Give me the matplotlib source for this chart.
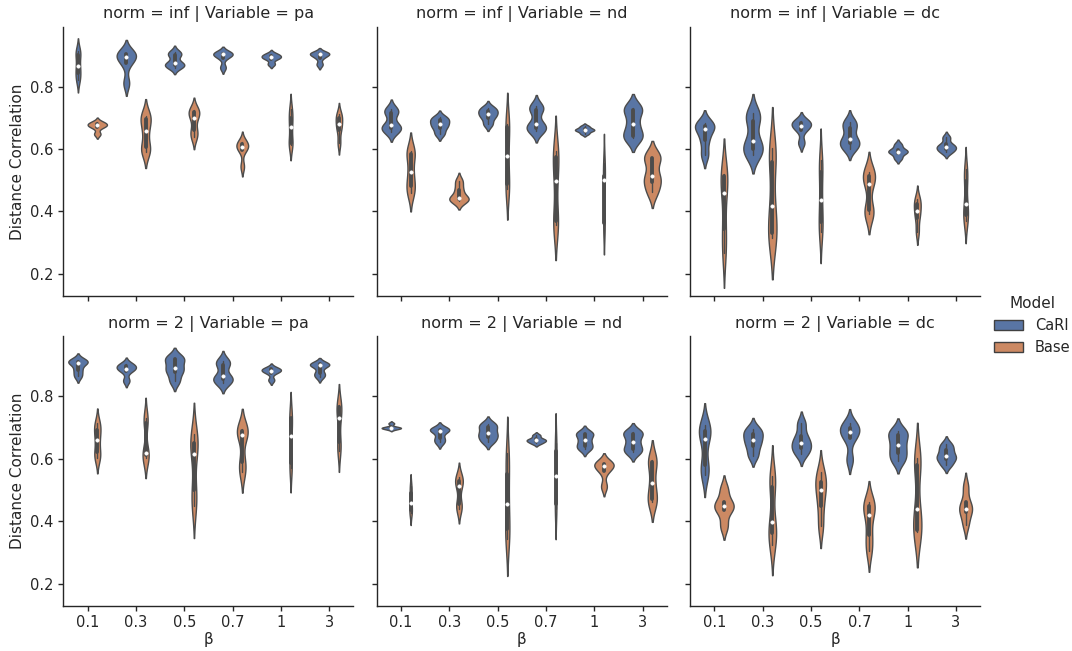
import numpy as np
import pandas as pd
import seaborn as sns
from matplotlib import pyplot as plt
from matplotlib.patches import Patch

betas = ['0.1', '0.3', '0.5', '0.7', '1', '3']
models = ['CaRI', 'Base']
norms = ['inf', '2']
variables = ['pa', 'nd', 'dc']

# samples (min, q1, median, q3, max), one row per beta
inf_pa_cari = [[0.821, 0.843, 0.867, 0.901, 0.915], [0.811, 0.875, 0.896, 0.903, 0.909],
               [0.861, 0.870, 0.875, 0.900, 0.910], [0.861, 0.893, 0.904, 0.906, 0.908],
               [0.872, 0.889, 0.894, 0.899, 0.905], [0.871, 0.893, 0.904, 0.906, 0.908]]
inf_pa_base = [[0.648, 0.670, 0.676, 0.680, 0.686], [0.592, 0.605, 0.658, 0.697, 0.707],
               [0.638, 0.660, 0.701, 0.718, 0.726], [0.544, 0.598, 0.606, 0.615, 0.624],
               [0.614, 0.620, 0.669, 0.700, 0.727], [0.619, 0.662, 0.679, 0.700, 0.711]]
inf_nd_cari = [[0.655, 0.668, 0.676, 0.715, 0.727], [0.648, 0.668, 0.680, 0.692, 0.702],
               [0.679, 0.700, 0.712, 0.722, 0.733], [0.657, 0.668, 0.680, 0.725, 0.737],
               [0.649, 0.658, 0.661, 0.665, 0.673], [0.636, 0.642, 0.680, 0.725, 0.731]]
inf_nd_base = [[0.460, 0.482, 0.525, 0.583, 0.593], [0.433, 0.440, 0.444, 0.470, 0.497],
               [0.473, 0.487, 0.579, 0.670, 0.681], [0.357, 0.369, 0.497, 0.574, 0.594],
               [0.356, 0.362, 0.501, 0.515, 0.555], [0.461, 0.495, 0.515, 0.570, 0.576]]
inf_dc_cari = [[0.581, 0.628, 0.663, 0.675, 0.682], [0.581, 0.600, 0.626, 0.690, 0.717],
               [0.620, 0.662, 0.674, 0.684, 0.690], [0.601, 0.618, 0.632, 0.668, 0.688],
               [0.570, 0.587, 0.592, 0.597, 0.614], [0.589, 0.600, 0.606, 0.615, 0.637]]
inf_dc_base = [[0.268, 0.345, 0.458, 0.515, 0.521], [0.315, 0.332, 0.419, 0.560, 0.602],
               [0.335, 0.365, 0.437, 0.525, 0.565], [0.391, 0.405, 0.488, 0.515, 0.527],
               [0.335, 0.380, 0.403, 0.425, 0.441], [0.370, 0.390, 0.424, 0.498, 0.535]]
l2_pa_cari = [[0.865, 0.885, 0.907, 0.910, 0.916], [0.850, 0.882, 0.889, 0.897, 0.903],
              [0.848, 0.878, 0.891, 0.918, 0.924], [0.841, 0.855, 0.864, 0.900, 0.914],
              [0.852, 0.876, 0.882, 0.886, 0.890], [0.863, 0.875, 0.899, 0.902, 0.904]]
l2_pa_base = [[0.601, 0.620, 0.661, 0.693, 0.713], [0.601, 0.612, 0.619, 0.715, 0.732],
              [0.447, 0.500, 0.616, 0.650, 0.678], [0.556, 0.590, 0.676, 0.690, 0.695],
              [0.571, 0.585, 0.672, 0.730, 0.735], [0.625, 0.655, 0.731, 0.765, 0.772]]
l2_nd_cari = [[0.695, 0.698, 0.699, 0.701, 0.713], [0.652, 0.666, 0.688, 0.693, 0.697],
              [0.654, 0.670, 0.682, 0.700, 0.712], [0.649, 0.656, 0.659, 0.664, 0.675],
              [0.631, 0.642, 0.659, 0.678, 0.683], [0.620, 0.632, 0.654, 0.680, 0.685]]
l2_nd_base = [[0.425, 0.435, 0.458, 0.490, 0.513], [0.439, 0.455, 0.512, 0.530, 0.541],
              [0.342, 0.375, 0.456, 0.552, 0.617], [0.439, 0.455, 0.544, 0.625, 0.649],
              [0.511, 0.560, 0.578, 0.583, 0.586], [0.462, 0.470, 0.522, 0.590, 0.595]]
l2_dc_cari = [[0.548, 0.580, 0.663, 0.690, 0.707], [0.609, 0.640, 0.661, 0.680, 0.696],
              [0.615, 0.635, 0.650, 0.672, 0.713], [0.597, 0.665, 0.685, 0.698, 0.713],
              [0.593, 0.618, 0.645, 0.675, 0.689], [0.580, 0.600, 0.608, 0.628, 0.646]]
l2_dc_base = [[0.384, 0.435, 0.447, 0.460, 0.503], [0.324, 0.362, 0.396, 0.510, 0.546],
              [0.383, 0.450, 0.499, 0.525, 0.558], [0.305, 0.355, 0.419, 0.450, 0.461],
              [0.366, 0.372, 0.439, 0.580, 0.601], [0.389, 0.428, 0.439, 0.460, 0.510]]

panels = {
    ('inf', 'pa'): (inf_pa_cari, inf_pa_base),
    ('inf', 'nd'): (inf_nd_cari, inf_nd_base),
    ('inf', 'dc'): (inf_dc_cari, inf_dc_base),
    ('2', 'pa'): (l2_pa_cari, l2_pa_base),
    ('2', 'nd'): (l2_nd_cari, l2_nd_base),
    ('2', 'dc'): (l2_dc_cari, l2_dc_base),
}

rows = []
for (norm, var), series in panels.items():
    for model, samples in zip(models, series):
        for beta, vals in zip(betas, samples):
            for v in vals:
                rows.append((norm, var, beta, model, v))
df = pd.DataFrame(rows, columns=['norm', 'Variable', 'β', 'Model', 'Distance Correlation'])

sns.set_theme(style='ticks', rc={'xtick.major.size': 3.5, 'ytick.major.size': 3.5,
                                 'xtick.major.width': 1.0, 'ytick.major.width': 1.0,
                                 'axes.linewidth': 1.0})
plt.rcParams['font.family'] = ['DejaVu Sans']
palette = sns.color_palette('deep', 2)

fig, axes = plt.subplots(2, 3, figsize=(10.72, 6.51), dpi=100, sharey=True)
lefts = [0.0592, 0.3515, 0.6438]
bottoms = [0.5453, 0.0696]
inner_kws = dict(box_width=2.8, whis_width=1.0, marker='o')
for i, norm in enumerate(norms):
    for j, var in enumerate(variables):
        ax = axes[i, j]
        ax.set_position([lefts[j], bottoms[i], 0.2705, 0.4137])
        sub = df[(df['norm'] == norm) & (df['Variable'] == var)]
        # old-style hue scaling: each beta pair shares one width scale
        for beta in betas:
            sns.violinplot(data=sub[sub['β'] == beta], x='β', y='Distance Correlation',
                           hue='Model', order=betas, hue_order=models, palette=palette,
                           common_norm=True, bw_adjust=0.7, linewidth=1.0,
                           inner_kws=inner_kws, ax=ax, legend=False)
        ax.set_title(f'norm = {norm} | Variable = {var}', fontsize=11.5)
        ax.set_xlim(-0.5, 5.5)
        ax.set_ylim(0.129, 0.992)
        ax.set_yticks([0.2, 0.4, 0.6, 0.8])
        ax.tick_params(labelsize=10.5)
        ax.set_xlabel('β', fontsize=11, labelpad=1)
        ax.set_ylabel('Distance Correlation', fontsize=11)
        if i == 0:
            ax.set_xlabel('')
            ax.tick_params(labelbottom=False)
        if j > 0:
            ax.set_ylabel('')
sns.despine(fig)

sat = [sns.desaturate(c, 0.75) for c in palette]
handles = [Patch(facecolor=c, edgecolor='#404040', linewidth=1) for c in sat]
fig.legend(handles, models, title='Model', loc='center left',
           bbox_to_anchor=(0.915, 0.5), frameon=False, fontsize=10.5, title_fontsize=11)

fig.savefig('out.png', dpi=100)
